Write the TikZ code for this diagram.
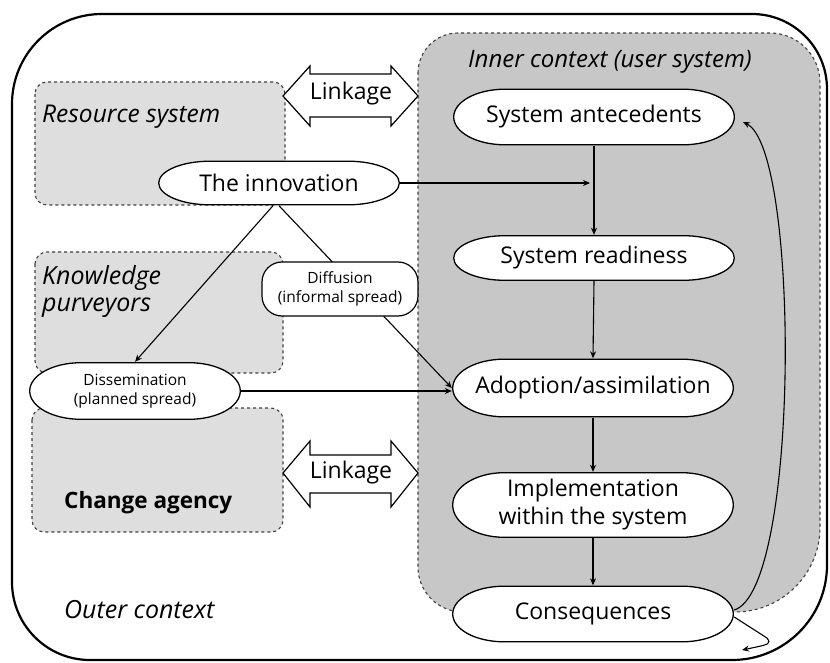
\documentclass[tikz,border=0pt]{standalone}
\usepackage{fontspec}
\setmainfont{Open Sans}
\usetikzlibrary{arrows.meta}
\begin{document}
\begin{tikzpicture}[x=1pt,y=1pt,
  oval/.style={rectangle,inner sep=0pt,align=center,minimum height=#1pt,
    path picture={
      \draw[line width=1.3pt,fill=white]
        ([xshift=52pt,yshift=-0.7pt]path picture bounding box.north west)
        -- ([xshift=-52pt,yshift=-0.7pt]path picture bounding box.north east)
        arc[start angle=90,end angle=-90,x radius=51.3pt,y radius={(#1/2-0.7)*1pt}]
        -- ([xshift=52pt,yshift=0.7pt]path picture bounding box.south west)
        arc[start angle=270,end angle=90,x radius=51.3pt,y radius={(#1/2-0.7)*1pt}]
        -- cycle;}},
  stage/.style={oval=#1,minimum width=282pt,font=\fontsize{23}{28}\selectfont},
  smallbox/.style={draw=black,line width=1.2pt,fill=white,inner sep=0pt,
    font=\fontsize{15.5}{19}\selectfont,align=center},
  region/.style={draw=black!75,dashed,line width=1.1pt,fill=black!13,rounded corners=12pt},
  innerfill/.style={draw=black!75,dashed,line width=1.1pt,fill=black!22},
  frame/.style={draw=black,line width=2.2pt},
  conn/.style={draw=black,line width=1.1pt},
  arr/.style={conn,-{Stealth[length=7pt,width=6pt]}},
  linkarrow/.style={draw=black,line width=1.2pt,fill=white},
  lbl/.style={align=left,anchor=west,inner sep=0pt},
]
\useasboundingbox (0,0) rectangle (830,-663);
\fill[white] (0,0) rectangle (830,-663);

% outer context frame
\draw[frame] (102,-14) -- (752,-14) arc[start angle=90,end angle=0,radius=75pt]
  -- (827,-565) arc[start angle=0,end angle=-90,radius=95pt]
  -- (90,-660) arc[start angle=270,end angle=180,radius=78pt]
  -- (12,-104) arc[start angle=180,end angle=90,radius=90pt] -- cycle;

% regions
\path[region] (35,-82) rectangle (285,-205);
\path[region] (35,-252) rectangle (283,-373);
\path[region] (32,-408) rectangle (283,-532);
\path[innerfill] (418,-73) arc[start angle=180,end angle=90,radius=40pt]
  -- (770,-33) arc[start angle=90,end angle=0,radius=50pt]
  -- (820,-527) arc[start angle=0,end angle=-90,radius=85pt]
  -- (463,-612) arc[start angle=270,end angle=180,radius=45pt] -- cycle;

% region labels
\node[lbl,font=\fontsize{24.5}{27}\selectfont\itshape] (rs) at (42,-117) {Resource system};
\node[lbl,font=\fontsize{25}{27}\selectfont\itshape] (kp) at (42,-292) {Knowledge\\purveyors};
\node[lbl,font=\fontsize{22.5}{26}\selectfont\bfseries] (ca) at (64,-503) {Change agency};
\node[lbl,font=\fontsize{25}{28}\selectfont\itshape] (oc) at (64,-610) {Outer context};
\node[font=\fontsize{24}{28}\selectfont\itshape,inner sep=0pt] (ic) at (610,-62) {Inner context (user system)};

% linkage arrows
\draw[linkarrow] (283,-96) -- (310,-66) -- (310,-74) -- (391,-74) -- (391,-66)
  -- (418,-96) -- (391,-126) -- (391,-117) -- (310,-117) -- (310,-126) -- cycle;
\node[font=\fontsize{23}{26}\selectfont,inner sep=0pt] (lk1) at (351,-94) {Linkage};
\draw[linkarrow] (283,-473) -- (310,-441) -- (310,-455) -- (391,-455) -- (391,-441)
  -- (418,-473) -- (391,-507) -- (391,-493) -- (310,-493) -- (310,-507) -- cycle;
\node[font=\fontsize{23}{26}\selectfont,inner sep=0pt] (lk2) at (351,-473) {Linkage};

% stages
\node[stage=57] (ante) at (594,-117) {System antecedents};
\node[stage=46] (ready) at (594,-258) {System readiness};
\node[stage=59] (adopt) at (593,-388) {Adoption/assimilation};
\node[stage=66] (impl) at (593,-505) {Implementation\\within the system};
\node[stage=57] (cons) at (593,-614) {Consequences};

% innovation
\node[oval=45,minimum width=242pt,font=\fontsize{23}{28}\selectfont] (innov) at (279,-183) {The innovation};

% diffusion line (under the diffusion box)
\draw[arr] (innov.south) -- (adopt.west);
\node[smallbox,rounded corners=20pt,minimum width=156pt,minimum height=54pt] (diff) at (340,-289)
  {Diffusion\\(informal spread)};

% dissemination
\node[oval=58,minimum width=212pt,font=\fontsize{15.5}{19}\selectfont] (diss) at (135,-391)
  {Dissemination\\(planned spread)};
\draw[arr] ([xshift=-6pt]innov.south) -- (diss.north);
\draw[arr] (diss.east) -- (adopt.west |- diss.east);

% innovation to inner context
\coordinate (ia) at (590,-181);
\draw[arr] (innov.east) -- (innov.east -| ia);

% vertical chain
\draw[arr] (ante.south) -- (ready.north);
\draw[arr] (ready.south) -- (adopt.north);
\draw[arr] (adopt.south) -- (impl.north);
\draw[arr] (impl.south) -- (cons.north);

% feedback loops
\coordinate (fb) at (743,-122);
\draw[arr] ([yshift=4pt]cons.east) .. controls (800,-590) and (800,-150) .. (fb);
\coordinate (hk) at (742,-650);
\draw[arr] ([yshift=-3pt]cons.east) -- (767,-638) .. controls (771,-644) .. (hk);
\end{tikzpicture}
\end{document}
